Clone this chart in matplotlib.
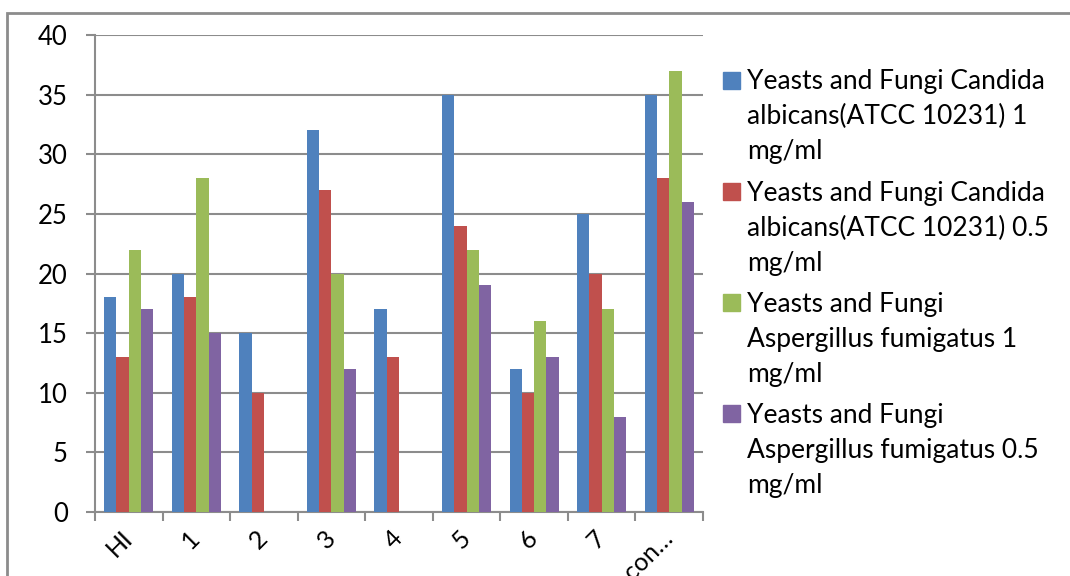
import matplotlib
matplotlib.use("Agg")
import matplotlib.pyplot as plt
from matplotlib.patches import Rectangle
import numpy as np

categories = ["HI", "1", "2", "3", "4", "5", "6", "7", "con…"]
series_labels = [
    ["Yeasts and Fungi Candida", "albicans(ATCC 10231) 1", "mg/ml"],
    ["Yeasts and Fungi Candida", "albicans(ATCC 10231) 0.5", "mg/ml"],
    ["Yeasts and Fungi", "Aspergillus fumigatus 1", "mg/ml"],
    ["Yeasts and Fungi", "Aspergillus fumigatus 0.5", "mg/ml"],
]
candida_1 = [18, 20, 15, 32, 17, 35, 12, 25, 35]
candida_05 = [13, 18, 10, 27, 13, 24, 10, 20, 28]
asperg_1 = [22, 28, 0, 20, 0, 22, 16, 17, 37]
asperg_05 = [17, 15, 0, 12, 0, 19, 13, 8, 26]
y_ticks = [0, 5, 10, 15, 20, 25, 30, 35, 40]

colors = ["#4F81BD", "#C0504D", "#9BBB59", "#8064A2"]
series = [candida_1, candida_05, asperg_1, asperg_05]

plt.rcParams["font.family"] = ["Lato", "DejaVu Sans"]
W, H = 1070, 576
fig = plt.figure(figsize=(W / 100, H / 100), dpi=100)
ax = fig.add_axes([95 / W, 1 - 512 / H, (703 - 95) / W, (512 - 35) / H])

x = np.arange(len(categories))
bw = 0.182
for i, (vals, c) in enumerate(zip(series, colors)):
    ax.bar(x + (i - 1.5) * bw, vals, width=bw, color=c, zorder=3, linewidth=0)

grid_c = "#8C8C8C"
ax.set_xlim(-0.5, len(categories) - 0.5)
ax.set_ylim(0, 40)
ax.set_yticks(y_ticks)
ax.set_yticklabels([str(v) for v in y_ticks], fontsize=18.5)
ax.yaxis.grid(True, color=grid_c, linewidth=1.5, zorder=0)
ax.set_axisbelow(True)

# category boundary ticks with centered labels
ax.set_xticks(np.arange(-0.5, len(categories), 1.0))
ax.set_xticklabels([])
ax.set_xticks(x, minor=True)
ax.set_xticklabels(categories, minor=True, fontsize=18, rotation=45,
                   ha="right", va="center", rotation_mode="anchor")
ax.tick_params(axis="x", which="minor", length=0, pad=16)
ax.tick_params(axis="x", which="major", length=6.5, width=1.5, color=grid_c)
ax.tick_params(axis="y", length=6.5, width=1.5, color=grid_c, pad=13)

for s in ["top", "right"]:
    ax.spines[s].set_visible(False)
for s in ["left", "bottom"]:
    ax.spines[s].set_color(grid_c)
    ax.spines[s].set_linewidth(1.5)

# legend: colour square beside the first line of each wrapped label
first_base = 89.5
entry_step = 111.3
line_step = 35.0
for k, (lines, c) in enumerate(zip(series_labels, colors)):
    b0 = first_base + entry_step * k
    fig.patches.append(Rectangle((723 / W, 1 - (b0 - 1) / H), 17 / W, 17 / H,
                                 transform=fig.transFigure, color=c))
    for j, line in enumerate(lines):
        fig.text(747 / W, 1 - (b0 + line_step * j) / H, line, fontsize=19,
                 va="baseline", ha="left", transform=fig.transFigure)

# outer chart frame
fig.patches.append(Rectangle((7 / W, -0.1), 1.2, 1 - 13 / H + 0.1,
                             transform=fig.transFigure, fill=False,
                             edgecolor="#8C8C8C", linewidth=2))

fig.savefig("out.png", dpi=100)
